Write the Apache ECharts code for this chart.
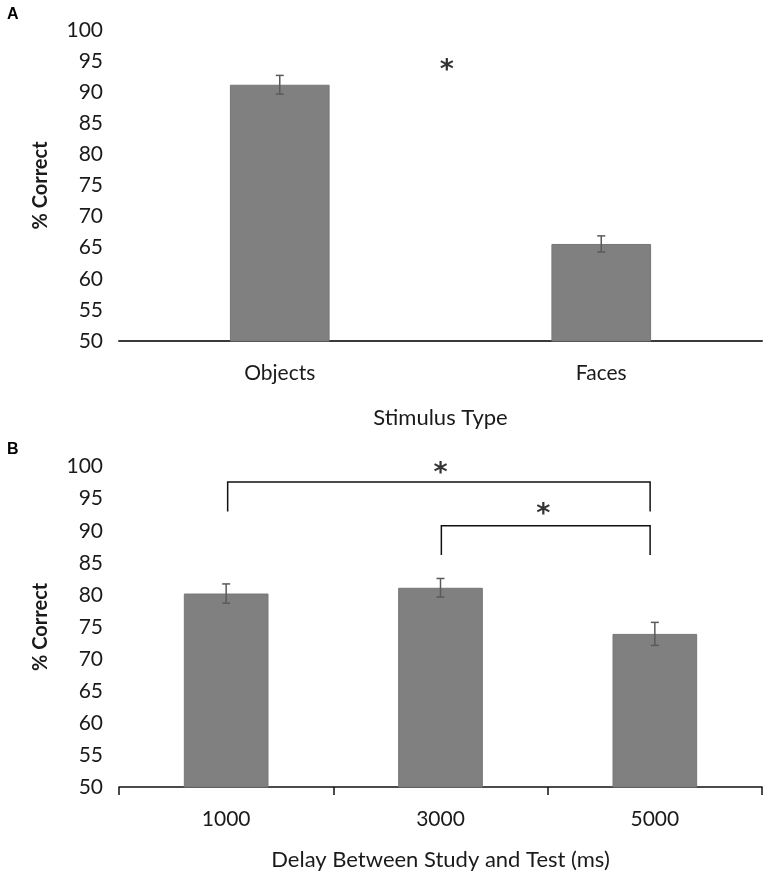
<!DOCTYPE html>
<html><head><meta charset="utf-8">
<script src="https://cdn.jsdelivr.net/npm/echarts@6/dist/echarts.min.js"></script>
<style>html,body{margin:0;padding:0;background:#fff}#c{width:765px;height:872px}</style>
</head><body><div id="c"></div>
<script>
// Panel A
const catsA = ['Objects', 'Faces'];
const meanA = [91.2, 65.6];
const errA = [1.5, 1.3];
// significance star in A: [x position in category units, y value]
const starsA = [[1.02, 93.4]];

// Panel B
const catsB = ['1000', '3000', '5000'];
const meanB = [80.2, 81.1, 73.9];
const errB = [1.5, 1.45, 1.8];
// brackets: [x1, x2, top, foot]
const bracketsB = [[0.507, 2.478, 97.6, 93.0], [1.504, 2.478, 90.8, 86.2]];
const starsB = [[1.50, 98.9], [1.98, 92.4]];

const yTicks = [50, 55, 60, 65, 70, 75, 80, 85, 90, 95, 100];

const FONT = 'Lato';
const TXT = '#1a1a1a';

function errSeries(xi, yi, means, errs) {
  return {
    type: 'custom', xAxisIndex: xi, yAxisIndex: yi, z: 5,
    data: means.map((m, i) => [i, m - errs[i], m + errs[i]]),
    renderItem: function (params, api) {
      const lo = api.coord([api.value(0), api.value(1)]);
      const hi = api.coord([api.value(0), api.value(2)]);
      const w = 4;
      const st = { stroke: '#5a5a5a', lineWidth: 1.5 };
      return { type: 'group', children: [
        { type: 'line', shape: { x1: lo[0], y1: lo[1], x2: hi[0], y2: hi[1] }, style: st },
        { type: 'line', shape: { x1: lo[0] - w, y1: lo[1], x2: lo[0] + w, y2: lo[1] }, style: st },
        { type: 'line', shape: { x1: hi[0] - w, y1: hi[1], x2: hi[0] + w, y2: hi[1] }, style: st }
      ]};
    }
  };
}

function starSeries(xi, yi, pts) {
  return {
    type: 'scatter', xAxisIndex: xi, yAxisIndex: yi, symbolSize: 1, itemStyle: { color: 'rgba(0,0,0,0)' },
    data: pts,
    label: { show: true, position: 'inside', formatter: '*', fontSize: 27, fontWeight: 'bold', color: '#000', fontFamily: 'DejaVu Sans' },
    silent: true
  };
}

function yAxis(gi) {
  return {
    type: 'value', gridIndex: gi, min: 50, max: 100, interval: 5,
    axisLine: { show: false }, axisTick: { show: false }, splitLine: { show: false },
    axisLabel: { fontFamily: FONT, fontSize: 21, color: TXT, margin: 16,
      formatter: v => yTicks.includes(v) ? String(v) : '' },
    name: '% Correct', nameLocation: 'middle', nameGap: 68, nameRotate: 90,
    nameTextStyle: { fontFamily: FONT, fontSize: 20, fontWeight: 'bold', color: TXT }
  };
}

const option = {
  animation: false,
  backgroundColor: '#fff',
  grid: [
    { left: 119, right: 3, top: 30, bottom: 531 },
    { left: 119, right: 3, top: 466.7, bottom: 80.3 }
  ],
  title: [
    { text: 'A', left: 2, top: 2, textStyle: { fontFamily: 'Liberation Sans', fontSize: 16, fontWeight: 'bold', color: '#000' } },
    { text: 'B', left: 2, top: 437, textStyle: { fontFamily: 'Liberation Sans', fontSize: 16, fontWeight: 'bold', color: '#000' } }
  ],
  xAxis: [
    { type: 'category', gridIndex: 0, data: catsA,
      axisLine: { lineStyle: { color: '#3a3a3a', width: 2 } }, axisTick: { show: false },
      axisLabel: { fontFamily: FONT, fontSize: 21, color: TXT, margin: 22 },
      name: 'Stimulus Type', nameLocation: 'middle', nameGap: 66,
      nameTextStyle: { fontFamily: FONT, fontSize: 22, color: TXT } },
    { type: 'category', gridIndex: 1, data: catsB,
      axisLine: { lineStyle: { color: '#111', width: 1.5 } },
      axisTick: { show: true, length: 8, lineStyle: { color: '#111', width: 1.5 } },
      axisLabel: { fontFamily: FONT, fontSize: 21, color: TXT, margin: 22 },
      name: 'Delay Between Study and Test (ms)', nameLocation: 'middle', nameGap: 62,
      nameTextStyle: { fontFamily: FONT, fontSize: 22, color: TXT } },
    { type: 'value', gridIndex: 0, min: 0, max: 2, show: false },
    { type: 'value', gridIndex: 1, min: 0, max: 3, show: false }
  ],
  yAxis: [yAxis(0), yAxis(1)],
  series: [
    { type: 'bar', xAxisIndex: 0, yAxisIndex: 0, data: meanA, barWidth: '31%',
      itemStyle: { color: '#808080', borderColor: '#767676', borderWidth: 1 } },
    errSeries(0, 0, meanA, errA),
    starSeries(2, 0, starsA),
    { type: 'bar', xAxisIndex: 1, yAxisIndex: 1, data: meanB, barWidth: '39.5%',
      itemStyle: { color: '#808080', borderColor: '#767676', borderWidth: 1 } },
    errSeries(1, 1, meanB, errB),
    { type: 'custom', xAxisIndex: 3, yAxisIndex: 1, z: 5,
      data: bracketsB,
      renderItem: function (params, api) {
        const a = api.coord([api.value(0), api.value(3)]);
        const b = api.coord([api.value(0), api.value(2)]);
        const c = api.coord([api.value(1), api.value(2)]);
        const d = api.coord([api.value(1), api.value(3)]);
        return { type: 'polyline', shape: { points: [a, b, c, d] }, style: { stroke: '#111', lineWidth: 1.5, fill: null } };
      } },
    starSeries(3, 1, starsB)
  ]
};
echarts.init(document.getElementById('c'), null, { renderer: 'canvas' }).setOption(option);
</script></body></html>
